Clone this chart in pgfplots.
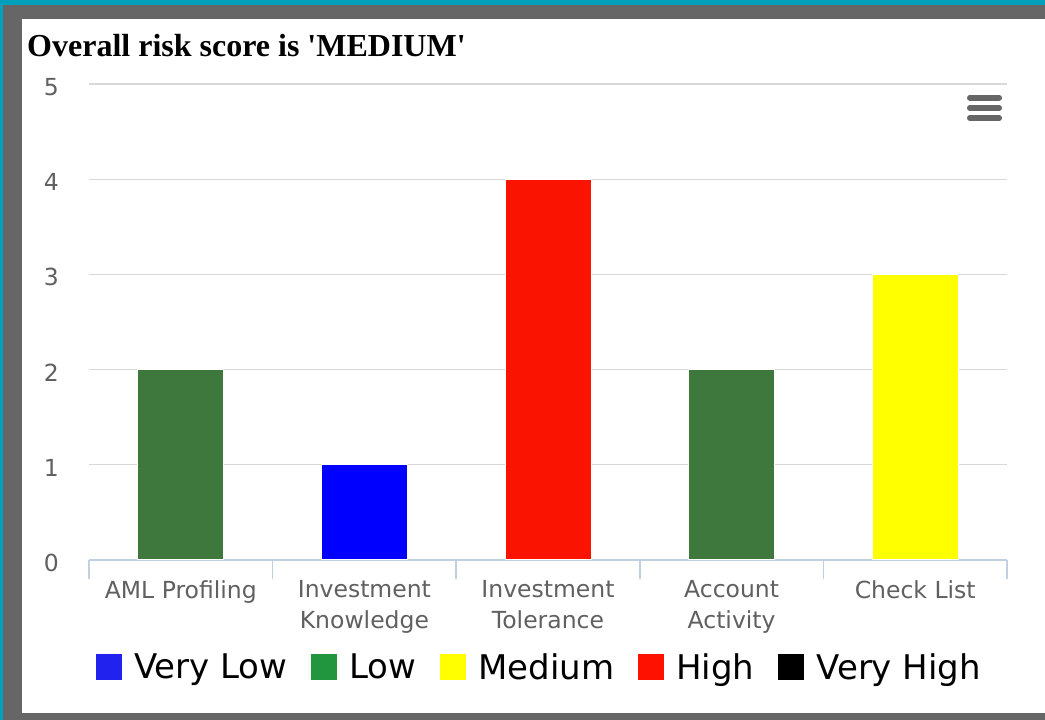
\documentclass[border=0pt]{standalone}
\usepackage{fontspec}
\setmainfont{Liberation Serif}
\newfontfamily\dejavu{DejaVu Sans}
\usepackage{pgfplots}
\pgfplotsset{compat=1.18}
\definecolor{teal1}{HTML}{00A0BA}
\definecolor{frame}{HTML}{666666}
\definecolor{bargreen}{HTML}{3E783C}
\definecolor{barblue}{HTML}{0000FF}
\definecolor{barred}{HTML}{FA1400}
\definecolor{baryellow}{HTML}{FFFF00}
\definecolor{lgvlow}{HTML}{2222EE}
\definecolor{lglow}{HTML}{22963E}
\definecolor{lgmed}{HTML}{FFFF00}
\definecolor{lghigh}{HTML}{FF1100}
\definecolor{lgvhigh}{HTML}{000000}
\definecolor{gridc}{HTML}{D8D8D8}
\definecolor{axisc}{HTML}{C0D0E0}
\definecolor{tickc}{HTML}{606060}
\begin{document}
\begin{tikzpicture}[x=1pt,y=1pt]
\useasboundingbox (0,0) rectangle (1045,720);
\fill[white] (0,0) rectangle (1045,720);
\fill[frame] (3,701) rectangle (1045,715);
\fill[frame] (3,0) rectangle (22,715);
\fill[frame] (3,0) rectangle (1045,6.5);
\fill[teal1] (0,715) rectangle (1045,720);
\fill[teal1] (0,0) rectangle (3,720);
\node[anchor=base west, inner sep=0pt, font=\fontsize{32}{38}\selectfont\bfseries] at (27,663) {Overall risk score is \textquotesingle MEDIUM\textquotesingle};
\draw[frame, line width=5.5pt, line cap=round] (969.75,622.2) -- (999.25,622.2);
\draw[frame, line width=5.5pt, line cap=round] (969.75,612) -- (999.25,612);
\draw[frame, line width=5.5pt, line cap=round] (969.75,602) -- (999.25,602);
\begin{axis}[
  at={(89pt,160pt)}, anchor=south west,
  scale only axis, width=918pt, height=476pt,
  xmin=-0.5, xmax=4.5, ymin=0, ymax=5,
  axis x line*=bottom, axis y line*=left,
  x axis line style={color=axisc, line width=1.5pt},
  y axis line style={draw=none},
  ytick={0,1,2,3,4,5},
  ytick style={draw=none},
  ymajorgrids=true,
  grid style={color=gridc, line width=1.3pt},
  xtick={0,1,2,3,4},
  xticklabels={AML Profiling,{Investment\\Knowledge},{Investment\\Tolerance},{Account\\Activity},Check List},
  minor xtick={-0.5,0.5,1.5,2.5,3.5,4.5},
  major tick length=0pt,
  minor tick length=19pt,
  tick align=outside,
  minor x tick style={color=axisc, line width=1.5pt},
  /pgf/number format/assume math mode=true,
  yticklabel style={font=\dejavu\fontsize{23.5}{28}\selectfont, color=tickc, anchor=east, inner sep=0pt, xshift=-30pt, yshift=-3pt},
  xticklabel style={font=\dejavu\fontsize{23.5}{31}\selectfont, color=tickc, align=center, anchor=north, inner sep=0pt, yshift=-20pt},
  legend image code/.code={\fill[#1, draw=none] (0pt,-13pt) rectangle (26pt,13pt);},
  legend style={draw=none, fill=none, at={(axis description cs:0.4897,-0.2248)}, anchor=center,
    font=\dejavu\fontsize{34}{40}\selectfont, nodes={inner sep=0pt},
    /tikz/every odd column/.append style={column sep=12pt},
    /tikz/every even column/.append style={column sep=24pt}},
  legend columns=-1,
]
\addplot[ybar, bar width=86pt, bar shift=0pt, fill=bargreen, draw=white, line width=1pt, forget plot] coordinates {(0,2) (3,2)};
\addplot[ybar, bar width=86pt, bar shift=0pt, fill=barblue, draw=white, line width=1pt, forget plot] coordinates {(1,1)};
\addplot[ybar, bar width=86pt, bar shift=0pt, fill=barred, draw=white, line width=1pt, forget plot] coordinates {(2,4)};
\addplot[ybar, bar width=86pt, bar shift=0pt, fill=baryellow, draw=white, line width=1pt, forget plot] coordinates {(4,3)};
\addlegendimage{fill=lgvlow}\addlegendentry{Very Low}
\addlegendimage{fill=lglow}\addlegendentry{Low}
\addlegendimage{fill=lgmed}\addlegendentry{Medium}
\addlegendimage{fill=lghigh}\addlegendentry{High}
\addlegendimage{fill=lgvhigh}\addlegendentry{Very High}
\end{axis}
\end{tikzpicture}
\end{document}
